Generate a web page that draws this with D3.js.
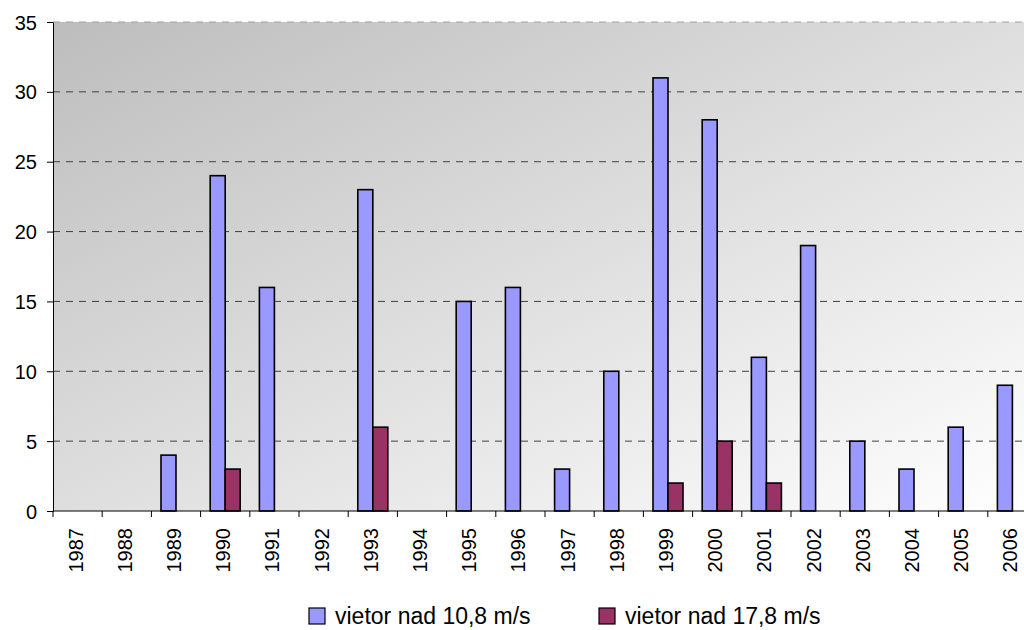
<!DOCTYPE html>
<meta charset="utf-8">
<style>
body { margin: 0; background: #fff; }
svg { font-family: "Liberation Sans", Arial, sans-serif; }
.grid line { stroke: #404040; stroke-dasharray: 7,6; }
.axis path, .axis line { stroke: #000; }
.axis text { font-size: 20px; fill: #000; }
</style>
<script src="https://d3js.org/d3.v7.min.js"></script>
<svg id="chart" width="1024" height="630"></svg>
<script>

var years = ["1987","1988","1989","1990","1991","1992","1993","1994","1995","1996",
             "1997","1998","1999","2000","2001","2002","2003","2004","2005","2006"];
var over108 = [0,0,4,24,16,0,23,0,15,16,3,10,31,28,11,19,5,3,6,9];
var over178 = [0,0,0,3,0,0,6,0,0,0,0,0,2,5,2,0,0,0,0,0];
var seriesNames = ["vietor nad 10,8 m/s", "vietor nad 17,8 m/s"];
var seriesColors = ["#9999ff", "#993366"];
var yTicks = [0,5,10,15,20,25,30,35];

var svg = d3.select("svg#chart"),
    margin = {left: 53, top: 22},
    plotW = 984, plotH = 489;

var defs = svg.append("defs");
var grad = defs.append("linearGradient")
    .attr("id", "bg")
    .attr("x1", 0).attr("y1", 0).attr("x2", 1).attr("y2", 1);
grad.append("stop").attr("offset", "0%").attr("stop-color", "#bdbdbd");
grad.append("stop").attr("offset", "100%").attr("stop-color", "#ffffff");

var g = svg.append("g").attr("transform", "translate(" + margin.left + "," + margin.top + ")");

var x = d3.scaleBand().domain(years).range([0, plotW]).paddingInner(0.39).paddingOuter(0.195);
var xCat = d3.scaleBand().domain(years).range([0, plotW]);
var xs = d3.scaleBand().domain([0, 1]).range([0, x.bandwidth()]);
var y = d3.scaleLinear().domain([0, 35]).range([plotH, 0]);

g.append("rect")
    .attr("width", plotW).attr("height", plotH)
    .attr("fill", "url(#bg)");

g.append("g").attr("class", "grid")
  .selectAll("line")
  .data(yTicks.filter(function(d) { return d > 0; }))
  .enter().append("line")
    .attr("x1", 0).attr("x2", plotW)
    .attr("y1", function(d) { return y(d); })
    .attr("y2", function(d) { return y(d); })
    .style("stroke", function(d) { return d === 35 ? "#a0a0a0" : null; });

var data = years.map(function(yr, i) { return {year: yr, vals: [over108[i], over178[i]]}; });

var groups = g.append("g").selectAll("g")
  .data(data)
  .enter().append("g")
    .attr("transform", function(d) { return "translate(" + x(d.year) + ",0)"; });

groups.selectAll("rect")
  .data(function(d) { return d.vals.map(function(v, k) { return {k: k, v: v}; }).filter(function(e) { return e.v > 0; }); })
  .enter().append("rect")
    .attr("x", function(d) { return xs(d.k); })
    .attr("width", xs.bandwidth())
    .attr("y", function(d) { return y(d.v); })
    .attr("height", function(d) { return y(0) - y(d.v); })
    .attr("fill", function(d) { return seriesColors[d.k]; })
    .attr("stroke", "#000")
    .attr("stroke-width", 1.6);

// y axis
g.append("g").attr("class", "axis")
    .call(d3.axisLeft(y).tickValues(yTicks).tickSize(6).tickPadding(10).tickSizeOuter(0))
  .selectAll("text").attr("dy", "0.35em");

// x axis with ticks at category boundaries
var xAxis = g.append("g").attr("class", "axis")
    .attr("transform", "translate(0," + plotH + ")");
xAxis.append("line").attr("x1", 0).attr("x2", plotW).attr("stroke", "#000");
xAxis.selectAll("line.tick")
  .data(years)
  .enter().append("line")
    .attr("class", "tick")
    .attr("x1", function(d) { return xCat(d); })
    .attr("x2", function(d) { return xCat(d); })
    .attr("y1", 0).attr("y2", 6)
    .attr("stroke", "#000");
xAxis.selectAll("text")
  .data(years)
  .enter().append("text")
    .attr("transform", function(d) {
      return "translate(" + (xCat(d) + xCat.bandwidth() / 2 + 5) + ",17) rotate(-90)";
    })
    .attr("text-anchor", "end")
    .text(function(d) { return d; });

// legend
var legendX = [309, 599];
var legend = svg.append("g").selectAll("g")
  .data(seriesNames)
  .enter().append("g")
    .attr("transform", function(d, i) { return "translate(" + legendX[i] + ",608)"; });
legend.append("rect")
    .attr("width", 16).attr("height", 16)
    .attr("fill", function(d, i) { return seriesColors[i]; })
    .attr("stroke", "#000").attr("stroke-width", 1.2);
legend.append("text")
    .attr("x", 26).attr("y", 16)
    .attr("font-size", 23)
    .text(function(d) { return d; });

</script>
